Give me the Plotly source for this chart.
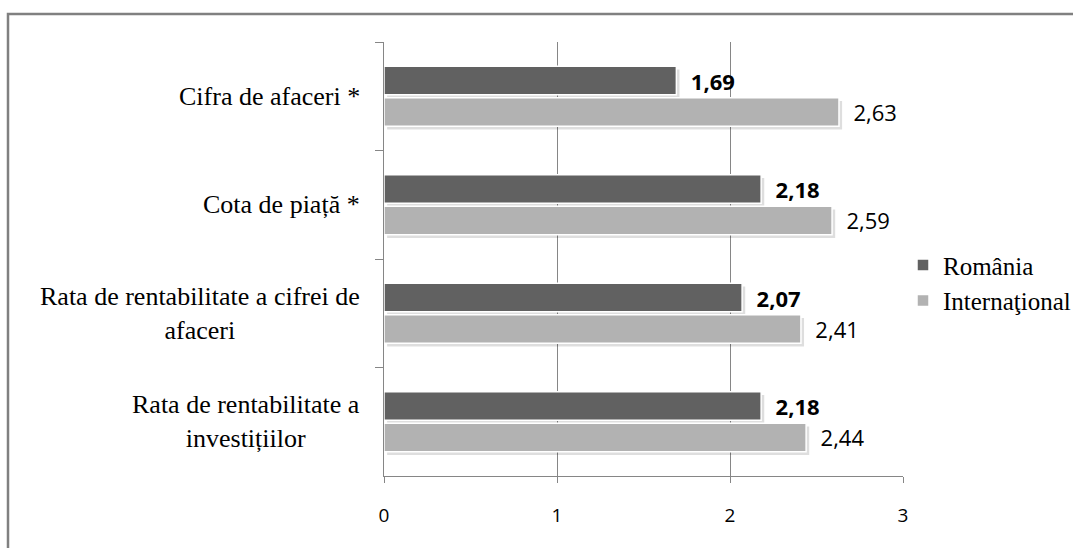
import plotly.graph_objects as go

# Indicator names (top to bottom) and scores per series
categories = [
    "Cifra de afaceri *",
    "Cota de piață *",
    "Rata de rentabilitate a cifrei de<br>afaceri",
    "Rata de rentabilitate a<br>investițiilor",
]
romania = [1.69, 2.18, 2.07, 2.18]
international = [2.63, 2.59, 2.41, 2.44]
x_ticks = [0, 1, 2, 3]

series_names = ["România", "Internaţional"]
colors = ["#616161", "#b2b2b2"]
offsets = [-0.276, 0.014]
bar_width = 0.262


def fmt(v):
    return f"{v:.2f}".replace(".", ",")


fig = go.Figure()

# soft drop shadows under each bar
for vals, off in zip([romania, international], offsets):
    fig.add_trace(go.Bar(
        x=vals, y=categories, orientation="h", base=0.018,
        offset=off + 0.03, width=bar_width,
        marker=dict(color="rgba(0,0,0,0.13)", line=dict(width=0)),
        showlegend=False, hoverinfo="skip",
    ))

label_fonts = [
    dict(family="Open Sans", size=22, color="#000000", weight="bold"),
    dict(family="Open Sans", size=22, color="#000000"),
]

for name, vals, color, off, tf in zip(series_names, [romania, international],
                                      colors, offsets, label_fonts):
    fig.add_trace(go.Bar(
        name=name, x=vals, y=categories, orientation="h",
        offset=off, width=bar_width,
        marker=dict(color=color, line=dict(color="#ffffff", width=1.5)),
        text=["\u00a0\u00a0" + fmt(v) for v in vals],
        textposition="outside", textfont=tf, constraintext="none",
        cliponaxis=False, hoverinfo="skip",
    ))

# category labels, centred line by line
for c in categories:
    fig.add_annotation(
        x=0, xref="paper", y=c, yref="y", xanchor="right", xshift=-22,
        text=c, showarrow=False, align="center",
        font=dict(family="Liberation Serif", size=26, color="#000000"),
    )

# outer frame of the chart area
L, T, W, H = 384, 42, 519, 434
fig.add_shape(
    type="rect", xref="paper", yref="paper",
    x0=(8 - L) / W, x1=(1090 - L) / W,
    y0=(T + H - 570) / H, y1=(T + H - 14) / H,
    line=dict(color="#808080", width=2.5), layer="below",
)

fig.update_layout(
    width=1073, height=548,
    margin=dict(l=L, r=1073 - L - W, t=T, b=548 - T - H, autoexpand=False),
    paper_bgcolor="#ffffff", plot_bgcolor="#ffffff",
    barmode="overlay",
    showlegend=True,
    legend=dict(
        x=1.0, y=0.445, xanchor="left", yanchor="middle",
        font=dict(family="Liberation Serif", size=25, color="#000000"),
        itemwidth=30, tracegroupgap=0, bgcolor="rgba(0,0,0,0)",
    ),
    xaxis=dict(
        range=[0, 3], tickvals=x_ticks, ticktext=[str(t) for t in x_ticks],
        showgrid=True, gridcolor="#868686", gridwidth=1,
        showline=True, linecolor="#868686", linewidth=1,
        ticks="outside", ticklen=6, tickcolor="#868686",
        zeroline=False, ticklabelstandoff=16,
        tickfont=dict(family="Open Sans", size=19, color="#000000"),
    ),
    yaxis=dict(
        categoryorder="array", categoryarray=categories,
        autorange="reversed", showticklabels=False,
        showline=True, linecolor="#868686", linewidth=1,
        ticks="outside", ticklen=8, tickcolor="#868686",
        tickson="boundaries", showgrid=False, zeroline=False,
    ),
)

fig.write_html("out.html")
